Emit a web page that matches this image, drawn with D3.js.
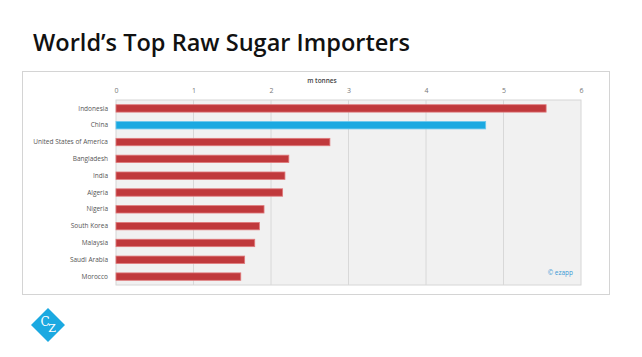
<!DOCTYPE html>
<html><head><meta charset="utf-8">
<script src="https://cdn.jsdelivr.net/npm/d3@7"></script>
<style>body{margin:0;background:#fff}svg{display:block}</style>
</head><body>
<svg id="c" width="642" height="357"></svg>
<script>
const countries = ["Indonesia","China","United States of America","Bangladesh","India","Algeria","Nigeria","South Korea","Malaysia","Saudi Arabia","Morocco"];
const imports = [5.55,4.77,2.76,2.23,2.18,2.15,1.91,1.85,1.79,1.66,1.61];
const xTicks = [0,1,2,3,4,5,6];
const highlight = "China";

const svg = d3.select("#c");
// title
svg.append("text").attr("x",33).attr("y",51)
  .attr("font-family","'Open Sans', sans-serif").attr("font-weight",600)
  .attr("font-size",24).attr("fill","#111")
  .attr("textLength",377).attr("lengthAdjust","spacingAndGlyphs")
  .text("World’s Top Raw Sugar Importers");

// outer frame
svg.append("rect").attr("x",22.5).attr("y",71.5).attr("width",587).attr("height",223)
  .attr("fill","#fff").attr("stroke","#d4d4d4");

const m = {l:116, r:581, t:100, b:285};
const x = d3.scaleLinear().domain([0,6]).range([m.l,m.r]);
const y = d3.scaleBand().domain(countries).range([m.t,m.b]).paddingInner(0.56).paddingOuter(0.28);

svg.append("rect").attr("x",m.l).attr("y",m.t).attr("width",m.r-m.l).attr("height",m.b-m.t)
  .attr("fill","#f1f1f1").attr("stroke","#d6d6d6");

svg.append("g").selectAll("line").data(xTicks.slice(1,-1)).join("line")
  .attr("x1",d=>x(d)).attr("x2",d=>x(d)).attr("y1",m.t).attr("y2",m.b)
  .attr("stroke","#d8d8d8");

const xa = svg.append("g").attr("transform",`translate(0,${m.t-7})`)
  .call(d3.axisTop(x).tickValues(xTicks).tickSize(0).tickPadding(0).tickFormat(d3.format("d")));
xa.select(".domain").remove();
xa.selectAll("text").attr("font-family","'Open Sans', sans-serif").attr("font-size",7).attr("fill","#777");

svg.append("text").attr("x",322).attr("y",83).attr("text-anchor","middle")
  .attr("font-family","'Open Sans', sans-serif").attr("font-size",6.5).attr("font-weight",600).attr("fill","#444")
  .text("m tonnes");

const ya = svg.append("g").attr("transform",`translate(${m.l-8},0)`)
  .call(d3.axisLeft(y).tickSize(0).tickPadding(0));
ya.select(".domain").remove();
ya.selectAll("text").attr("font-family","'Open Sans', sans-serif").attr("font-size",6.5).attr("fill","#555");

svg.append("g").selectAll("rect").data(countries).join("rect")
  .attr("x",x(0)).attr("y",d=>y(d)).attr("height",y.bandwidth())
  .attr("width",(d,i)=>x(imports[i])-x(0))
  .attr("fill",d=>d===highlight?"#1ba9e1":"#c0393c")
  .attr("stroke",d=>d===highlight?"#6cc8ee":"#e07a7c").attr("stroke-width",0.8);

svg.append("text").attr("x",573).attr("y",275).attr("text-anchor","end")
  .attr("font-family","'Open Sans', sans-serif").attr("font-size",6.5).attr("fill","#3a9ad6")
  .text("© ezapp");

// logo
const lg = svg.append("g").attr("transform","translate(48,325)");
lg.append("rect").attr("x",-12).attr("y",-12).attr("width",24).attr("height",24)
  .attr("transform","rotate(45)").attr("fill","#1ba9e1");
lg.append("text").attr("x",-3).attr("y",1).attr("text-anchor","middle")
  .attr("font-family","'DejaVu Serif', serif").attr("font-size",12).attr("fill","#fff").text("C");
lg.append("text").attr("x",4).attr("y",7).attr("text-anchor","middle")
  .attr("font-family","'DejaVu Serif', serif").attr("font-size",11).attr("fill","#fff").text("Z");
</script>
</body></html>
